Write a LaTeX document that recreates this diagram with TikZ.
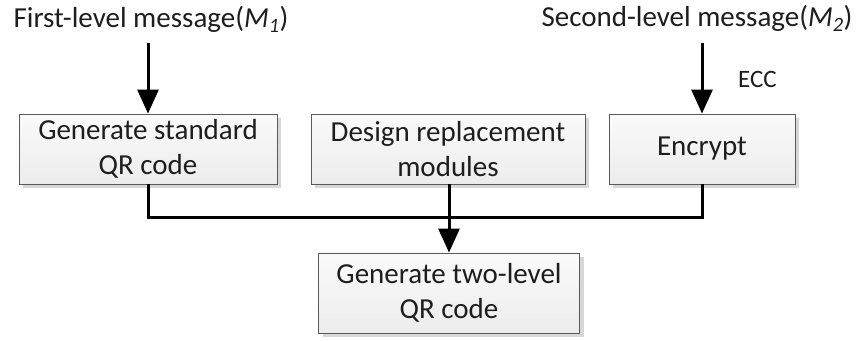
\documentclass[tikz,border=0pt]{standalone}
\usepackage{fontspec}
\setmainfont{Carlito}
\usetikzlibrary{arrows.meta,shadows}
\definecolor{boxline}{RGB}{90,90,90}
\definecolor{boxtop}{RGB}{250,250,250}
\definecolor{boxbot}{RGB}{236,236,236}
\definecolor{shadowgray}{RGB}{215,215,215}
\definecolor{txt}{RGB}{30,30,30}
\begin{document}
\begin{tikzpicture}[x=1pt,y=1pt,
  stepbox/.style={draw=boxline, line width=0.9pt, top color=boxtop, bottom color=boxbot,
    align=center, font=\fontsize{29}{35}\selectfont, text=txt, inner sep=0pt,
    drop shadow={shadow xshift=4pt, shadow yshift=-4pt, fill=shadowgray, opacity=1}},
  title/.style={font=\fontsize{29}{35}\selectfont, text=txt, inner sep=0pt, anchor=base},
  wire/.style={line width=3pt, black},
  arr/.style={wire, -{Triangle[length=24pt,width=21pt]}}]
\useasboundingbox (0,0) rectangle (859,340);

% processing boxes
\node[stepbox, minimum width=258pt, minimum height=70pt] (gen) at (148,191) {Generate standard\\QR code};
\node[stepbox, minimum width=274pt, minimum height=70pt] (des) at (448,191) {Design replacement\\modules};
\node[stepbox, minimum width=186pt, minimum height=70pt] (enc) at (702,191) {Encrypt};
\node[stepbox, minimum width=261pt, minimum height=80pt] (two) at (449,47) {Generate two-level\\QR code};

% input messages
\node[title] (m1) at (151,312) {First-level message(\textit{M\textsubscript{1}})};
\node[title] (m2) at (697,313) {Second-level message(\textit{M\textsubscript{2}})};
\node[font=\fontsize{25}{30}\selectfont, text=txt, inner sep=0pt, anchor=base west] (ecc) at (738,252) {ECC};

\coordinate (s1) at (148,297);
\coordinate (s2) at (702,297);
\coordinate (join) at (449,122);

% connectors
\draw[arr] (s1) -- (gen.north);
\draw[arr] (s2) -- (enc.north);
\draw[wire] (gen.south) |- (join) -| (enc.south);
\draw[wire] (des.south -| join) -- (join);
\draw[arr] (join) -- (two.north);
\end{tikzpicture}
\end{document}
